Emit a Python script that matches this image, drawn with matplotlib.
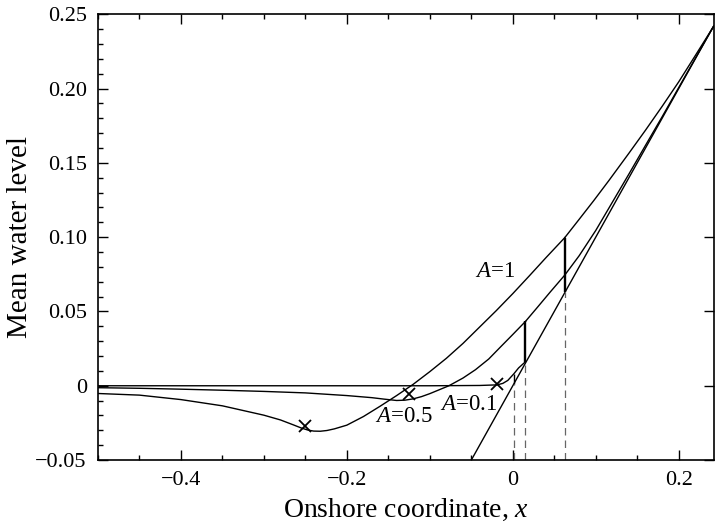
import matplotlib
matplotlib.use('Agg')
import matplotlib.pyplot as plt
from matplotlib.ticker import MultipleLocator, FuncFormatter

plt.rcParams['font.family'] = ['Liberation Serif', 'DejaVu Serif']
plt.rcParams['mathtext.fontset'] = 'custom'
plt.rcParams['mathtext.rm'] = 'Liberation Serif'
plt.rcParams['mathtext.it'] = 'Liberation Serif:italic'

# ---------------- data ----------------
beach_x = [-0.05, 0.242]
beach_y = [-0.05, 0.242]

# A = 1, seaward of the jump
a1_x = [-0.50, -0.45, -0.40, -0.35, -0.30, -0.28, -0.265, -0.255, -0.247, -0.240, -0.232,
        -0.224, -0.215, -0.20, -0.18, -0.16, -0.14, -0.12, -0.10, -0.08, -0.06, -0.04, -0.02,
        0.00, 0.02, 0.04, 0.0627]
a1_y = [-0.0052, -0.0063, -0.0093, -0.0135, -0.0198, -0.0230, -0.0262, -0.0284, -0.0298, -0.0305, -0.0306,
        -0.0301, -0.0290, -0.0265, -0.0207, -0.0138, -0.0066, 0.0010, 0.0095, 0.0185, 0.0285, 0.0395, 0.0505,
        0.0620, 0.0740, 0.0862, 0.0997]
# A = 1, continuation landward of the jump
a1b_x = [0.0627, 0.08, 0.0976, 0.1157, 0.14, 0.16, 0.18, 0.20, 0.22, 0.242]
a1b_y = [0.0997, 0.112, 0.1246, 0.138, 0.1565, 0.172, 0.188, 0.2045, 0.2222, 0.2418]

# A = 0.5
a05_x = [-0.50, -0.45, -0.40, -0.35, -0.30, -0.25, -0.20, -0.17, -0.155, -0.14,
         -0.13, -0.12, -0.11, -0.10, -0.09, -0.077, -0.06, -0.045, -0.029, -0.015,
         0.0, 0.0153]
a05_y = [-0.0013, -0.0017, -0.0023, -0.0030, -0.0038, -0.0048, -0.0066, -0.0080, -0.0090, -0.0099,
         -0.0097, -0.0088, -0.0073, -0.0053, -0.0030, 0.0000, 0.0052, 0.0108, 0.0180, 0.0260,
         0.0345, 0.0433]
a05b_x = [0.0153, 0.03, 0.045, 0.0627, 0.08, 0.10, 0.12, 0.14, 0.16, 0.18, 0.21, 0.242]
a05b_y = [0.0433, 0.053, 0.063, 0.0745, 0.0875, 0.1045, 0.1235, 0.1425, 0.1618, 0.181, 0.2105, 0.2418]

# A = 0.1
a01_x = [-0.50, -0.30, -0.10, -0.04, -0.019, -0.012, -0.006, 0.0012, 0.007, 0.0153]
a01_y = [0.0, 0.0, 0.0, 0.0002, 0.0006, 0.0016, 0.0036, 0.0080, 0.0120, 0.0162]

# jumps: x position, top and bottom level
jump_x = [0.0627, 0.0153, 0.0012]
jump_top = [0.0997, 0.0433, 0.0080]
jump_bot = [0.0630, 0.0158, 0.0015]
jump_lw = [1.7, 1.7, 1.0]

# cross markers
mark_x = [-0.250, -0.125, -0.019]
mark_y = [-0.0270, -0.0058, 0.0012]

labels = [r'$A$=1', r'$A$=0.5', r'$A$=0.1']
label_x = [-0.021, -0.131, -0.053]
label_y = [0.077, -0.0205, -0.0125]

xticks = [-0.4, -0.2, 0.0, 0.2]
yticks = [-0.05, 0.0, 0.05, 0.10, 0.15, 0.20, 0.25]

# ---------------- figure ----------------
fig = plt.figure(figsize=(7.15, 5.27), dpi=100)
ax = fig.add_axes([0.137, 0.127, 0.861, 0.846])

lw = 1.0
ax.plot(beach_x, beach_y, color='black', lw=lw)
ax.plot(a1_x, a1_y, color='black', lw=lw)
ax.plot(a1b_x, a1b_y, color='black', lw=lw)
ax.plot(a05_x, a05_y, color='black', lw=lw)
ax.plot(a05b_x, a05b_y, color='black', lw=lw)
ax.plot(a01_x, a01_y, color='black', lw=lw)

for xj, t, b, w in zip(jump_x, jump_top, jump_bot, jump_lw):
    ax.plot([xj, xj], [b, t], color='black', lw=w, solid_capstyle='butt')
    ax.plot([xj, xj], [-0.05, b], color='#666666', lw=0.9, dashes=(6, 4))

ax.plot(mark_x, mark_y, linestyle='none', marker='x', color='black',
        markersize=9, markeredgewidth=1.3)

for t, lx, ly in zip(labels, label_x, label_y):
    ax.text(lx, ly, t, fontsize=16.5, ha='center', va='center')

ax.set_xlim(-0.5, 0.242)
ax.set_ylim(-0.05, 0.25)

ax.xaxis.set_major_locator(plt.FixedLocator(xticks))
ax.xaxis.set_minor_locator(MultipleLocator(0.05))
ax.yaxis.set_major_locator(plt.FixedLocator(yticks))
ax.yaxis.set_minor_locator(MultipleLocator(0.01))

def xfmt(v, pos):
    if abs(v) < 1e-9:
        return '0'
    return ('%.1f' % v).replace('-', '\u2212')

def yfmt(v, pos):
    if abs(v) < 1e-9:
        return '0'
    return ('%.2f' % v).replace('-', '\u2212')

ax.xaxis.set_major_formatter(FuncFormatter(xfmt))
ax.yaxis.set_major_formatter(FuncFormatter(yfmt))

ax.tick_params(which='both', direction='in', top=True, right=True, labelsize=16,
               width=1.0)
ax.tick_params(which='major', length=7, pad=8)
ax.tick_params(which='minor', length=3.5)
ax.tick_params(axis='y', which='minor', right=False)
for s in ax.spines.values():
    s.set_linewidth(1.2)

ax.set_xlabel(r'Onshore coordinate, $x$', fontsize=20, labelpad=5)
ax.set_ylabel('Mean water level', fontsize=21, labelpad=2)

fig.savefig('out.png', dpi=100)
